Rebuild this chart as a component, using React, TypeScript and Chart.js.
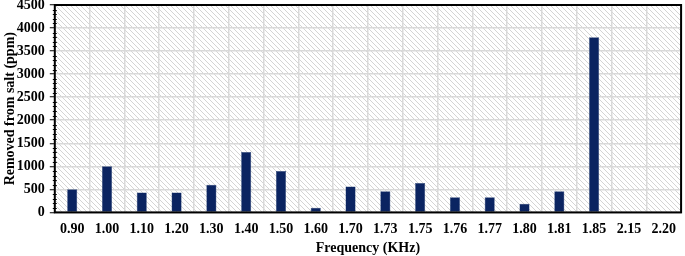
import React, { useEffect, useRef } from "react";
import { Chart, registerables } from "chart.js";

Chart.register(...registerables);

const categories = ["0.90", "1.00", "1.10", "1.20", "1.30", "1.40", "1.50", "1.60", "1.70", "1.73", "1.75", "1.76", "1.77", "1.80", "1.81", "1.85", "2.15", "2.20"];
const removedValues = [500, 1000, 430, 430, 600, 1310, 900, 100, 560, 460, 640, 330, 330, 190, 460, 3800, 0, 0];
const yMax = 4500;
const yStep = 500;
const yMinorStep = 100;

const FONT = "'Liberation Serif', 'Times New Roman', serif";

function makePattern(ctx: CanvasRenderingContext2D) {
  const c = document.createElement("canvas");
  const s = 5;
  c.width = s;
  c.height = s;
  const p = c.getContext("2d")!;
  p.fillStyle = "#ffffff";
  p.fillRect(0, 0, s, s);
  p.strokeStyle = "#d4d4d4";
  p.lineWidth = 1;
  p.beginPath();
  p.moveTo(-1, -1);
  p.lineTo(s + 1, s + 1);
  p.moveTo(-1, s - 1);
  p.lineTo(1, s + 1);
  p.moveTo(s - 1, -1);
  p.lineTo(s + 1, 1);
  p.stroke();
  return ctx.createPattern(c, "repeat");
}

const decorPlugin = {
  id: "decor",
  beforeDraw(chart: any) {
    const { ctx, chartArea } = chart;
    const pat = makePattern(ctx);
    ctx.save();
    ctx.fillStyle = pat || "#f4f4f4";
    ctx.fillRect(chartArea.left, chartArea.top, chartArea.right - chartArea.left, chartArea.bottom - chartArea.top);
    ctx.restore();
  },
  afterDraw(chart: any) {
    const { ctx, chartArea, scales } = chart;
    ctx.save();
    ctx.strokeStyle = "#000";
    ctx.lineWidth = 1;
    const y = scales.y;
    ctx.beginPath();
    for (let v = 0; v <= yMax; v += yMinorStep) {
      if (v % yStep === 0) continue;
      const py = Math.round(y.getPixelForValue(v)) + 0.5;
      ctx.moveTo(chartArea.left - 2, py);
      ctx.lineTo(chartArea.left + 2, py);
    }
    ctx.stroke();
    ctx.lineWidth = 2;
    ctx.strokeRect(chartArea.left, chartArea.top, chartArea.right - chartArea.left, chartArea.bottom - chartArea.top);
    ctx.restore();
  },
};

export default function App() {
  const ref = useRef<HTMLCanvasElement>(null);
  useEffect(() => {
    const chart = new Chart(ref.current!, {
      type: "bar",
      data: {
        labels: categories,
        datasets: [
          {
            data: removedValues,
            backgroundColor: "#0b2461",
            borderColor: "#2a4478",
            borderWidth: 0.5,
            categoryPercentage: 1,
            barPercentage: 0.29,
          },
        ],
      },
      options: {
        animation: false,
        responsive: false,
        maintainAspectRatio: false,
        layout: { padding: { top: 5, right: 2, left: 2, bottom: -1 } },
        plugins: { legend: { display: false }, tooltip: { enabled: false } },
        scales: {
          x: {
            grid: { color: "#d9d9d9", lineWidth: 1.5, drawTicks: false, offset: true },
            border: { display: false },
            ticks: { color: "#000", padding: 9, font: { family: FONT, size: 14, weight: "bold" }, maxRotation: 0, autoSkip: false },
            title: { display: true, text: "Frequency (KHz)", color: "#000", padding: { top: -7, bottom: 0 }, font: { family: FONT, size: 14, weight: "bold" } },
          },
          y: {
            min: 0,
            max: yMax,
            afterFit: (s: any) => { s.paddingTop = 0; },
            ticks: { stepSize: yStep, color: "#000", padding: 5, font: { family: FONT, size: 14, weight: "bold" }, callback: (v: any) => String(v) },
            grid: { color: "#d9d9d9", lineWidth: 1.5, tickColor: "#000", tickLength: 5, tickWidth: 1 },
            border: { display: false },
            title: { display: true, text: "Removed from salt (ppm)", color: "#000", padding: { top: 0, bottom: -7 }, font: { family: FONT, size: 14, weight: "bold" } },
          },
        },
      },
      plugins: [decorPlugin],
    });
    return () => chart.destroy();
  }, []);
  return (
    <div style={{ position: "absolute", left: 0, top: 0, width: 685, height: 256, background: "#fff" }}>
      <canvas ref={ref} width={685} height={256} />
    </div>
  );
}
